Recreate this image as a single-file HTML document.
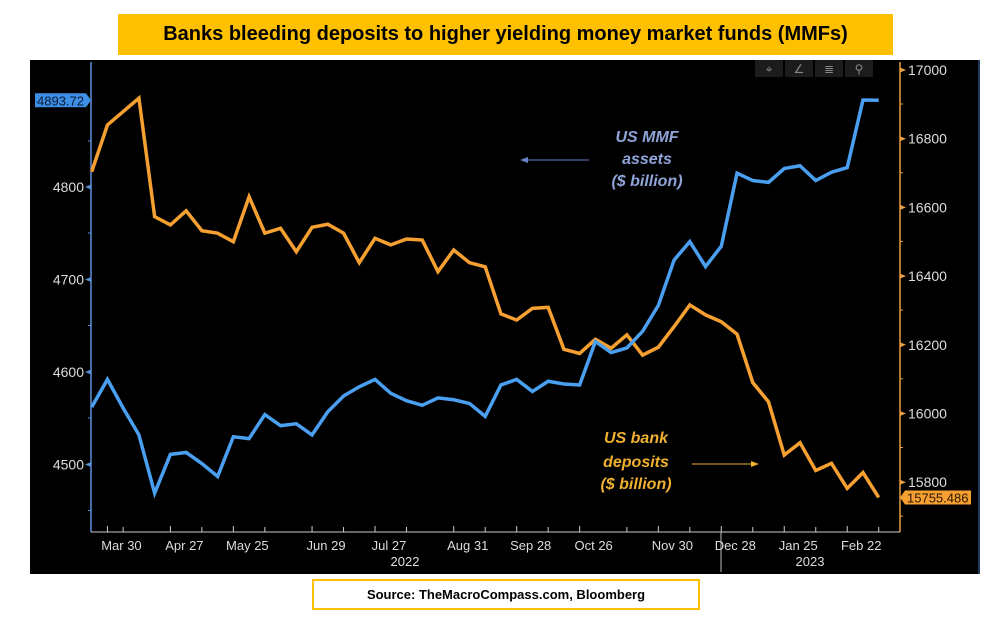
<!DOCTYPE html>
<html><head><meta charset="utf-8">
<style>
body{margin:0;background:#fff;width:1003px;height:628px;overflow:hidden;font-family:"Liberation Sans",sans-serif;}
#title{position:absolute;left:118px;top:14px;width:775px;height:41px;background:#ffc000;color:#000;font-weight:bold;font-size:20px;line-height:41px;text-align:center;}
#src{position:absolute;left:312px;top:579px;width:384px;height:27px;border:2px solid #ffc000;background:#fff;font-weight:bold;font-size:13px;line-height:27px;text-align:center;}
svg{position:absolute;left:0;top:0;}
</style></head><body>
<svg width="1003" height="628">
<rect x="30" y="60" width="950" height="514" fill="#000"/>
<line x1="979" y1="60" x2="979" y2="574" stroke="#2a4a7a" stroke-width="1.5"/>
<g id="g"></g>
</svg>
<div id="title">Banks bleeding deposits to higher yielding money market funds (MMFs)</div>
<div id="src">Source: TheMacroCompass.com, Bloomberg</div>
<script>
const mmfValues=[4562,4592,4561,4532,4469,4511,4513,4501,4487,4530,4528,4554,4542,4544,4532,4557,4574,4584,4592,4577,4569,4564,4572,4570,4566,4552,4586,4592,4579,4590,4587,4586,4633,4621,4626,4644,4672,4721,4741,4714,4736,4815,4807,4805,4820,4823,4807,4816,4821,4894,4893.72];
const depositValues=[16704,16840,16879,16918,16573,16549,16590,16532,16525,16500,16631,16525,16539,16471,16542,16551,16525,16439,16510,16491,16508,16505,16413,16476,16439,16427,16290,16272,16306,16309,16187,16175,16216,16190,16229,16170,16193,16253,16316,16287,16267,16231,16090,16034,15879,15915,15834,15855,15782,15828,15755.486];
const xTickLabels=["Mar 30","Apr 27","May 25","Jun 29","Jul 27","Aug 31","Sep 28","Oct 26","Nov 30","Dec 28","Jan 25","Feb 22"];
const xTickIndex=[1,5,9,14,18,23,27,31,36,40,44,48];
const minorTickIndex=[2,7,11,16,20,25,29,34,38,42,46,50];
const leftTicks=[4500,4600,4700,4800];
const rightTicks=[15800,16000,16200,16400,16600,16800,17000];

const NS="http://www.w3.org/2000/svg";
const g=document.getElementById('g');
const X0=91.7,DX=15.74;
const xs=i=>X0+i*DX;
const yL=v=>187-(v-4800)*0.925;
const yR=v=>70+(17000-v)*0.3435;
function mk(t,a,p){const e=document.createElementNS(NS,t);for(const k in a)e.setAttribute(k,a[k]);(p||g).appendChild(e);return e;}

// axes
let e;
e=mk('line',{x1:91,y1:62,x2:91,y2:532,stroke:'#5b8fd6','stroke-width':1.5});


e=mk('line',{x1:900,y1:62,x2:900,y2:532,stroke:'#e8a040','stroke-width':1.5});


e=mk('line',{x1:91,y1:532,x2:900,y2:532,stroke:'#ccc','stroke-width':1});


mk('line',{x1:721,y1:532,x2:721,y2:572,stroke:'#bbb','stroke-width':1});

leftTicks.forEach(v=>{const y=yL(v);
 mk('polygon',{points:`85,${y} 91,${y-2.5} 91,${y+2.5}`,fill:'#5b8fd6'});
 mk('line',{x1:91,y1:y+46,x2:88,y2:y+46,stroke:'#5b8fd6'});
 e=mk('text',{x:84,y:y+5,fill:'#ddd','font-size':14,'text-anchor':'end'});e.textContent=v;
 
 
});
mk('line',{x1:91,y1:yL(4800)-46,x2:88,y2:yL(4800)-46,stroke:'#5b8fd6'});
rightTicks.forEach(v=>{const y=yR(v);
 mk('polygon',{points:`906,${y} 900,${y-2.5} 900,${y+2.5}`,fill:'#e8a040'});
 if(v>15800)mk('line',{x1:900,y1:y+34,x2:903,y2:y+34,stroke:'#e8a040'});
 e=mk('text',{x:908,y:y+5,fill:'#ddd','font-size':14});e.textContent=v;
 
 
});
mk('line',{x1:900,y1:yR(15800)+34,x2:903,y2:yR(15800)+34,stroke:'#e8a040'});
xTickIndex.forEach((i,k)=>{const x=xs(i);
 mk('line',{x1:x,y1:532,x2:x,y2:526,stroke:'#ccc'});
 e=mk('text',{x:x+14,y:550,fill:'#ddd','font-size':13,'text-anchor':'middle'});e.textContent=xTickLabels[k];
 
 
});
minorTickIndex.forEach(i=>{const x=xs(i);mk('line',{x1:x,y1:532,x2:x,y2:527,stroke:'#ccc'});});
e=mk('text',{x:405,y:566,fill:'#ddd','font-size':13,'text-anchor':'middle'});e.textContent='2022';


e=mk('text',{x:810,y:566,fill:'#ddd','font-size':13,'text-anchor':'middle'});e.textContent='2023';



// series
e=mk('polyline',{points:depositValues.map((v,i)=>xs(i)+','+yR(v)).join(' '),fill:'none',stroke:'#f5a030','stroke-width':3.5,'stroke-linejoin':'miter'});


e=mk('polyline',{points:mmfValues.map((v,i)=>xs(i)+','+yL(v)).join(' '),fill:'none',stroke:'#4a9ff0','stroke-width':3.5,'stroke-linejoin':'miter'});



// last value labels
const lm=mmfValues[mmfValues.length-1],ld=depositValues[depositValues.length-1];
let yy=yL(lm);
mk('polygon',{points:`35,${yy-7} 86,${yy-7} 91,${yy} 86,${yy+7} 35,${yy+7}`,fill:'#3d8fe6'});
e=mk('text',{x:37,y:yy+5,fill:'#0a1a33','font-size':13});e.textContent=lm.toFixed(2);


yy=yR(ld);
mk('polygon',{points:`900,${yy} 905,${yy-7} 971,${yy-7} 971,${yy+7} 905,${yy+7}`,fill:'#f5a030'});
e=mk('text',{x:907,y:yy+5,fill:'#2a1500','font-size':13});e.textContent=ld.toFixed(3);



// toolbar
['⌖','∠','≣','⚲'].forEach((c,k)=>{const x=755+k*30;
 e=mk('rect',{x:x,y:60,width:28,height:17,fill:'#1c1c1c'});
 
 
 const t=mk('text',{x:x+14,y:73,fill:'#888','font-size':12,'text-anchor':'middle'});t.textContent=c;
});

// annotations
[['US MMF',142],['assets',164],['($ billion)',186]].forEach(([s,y])=>{
 e=mk('text',{x:647,y:y,fill:'#8fa4d8','font-size':16,'font-weight':'bold','font-style':'italic','text-anchor':'middle'});e.textContent=s;
 
 
});
mk('line',{x1:589,y1:160,x2:526,y2:160,stroke:'#6a82c8','stroke-width':1});
mk('polygon',{points:'520,160 528,157 528,163',fill:'#6a82c8'});
[['US bank',443],['deposits',467],['($ billion)',489]].forEach(([s,y])=>{
 e=mk('text',{x:636,y:y,fill:'#f0b030','font-size':16,'font-weight':'bold','font-style':'italic','text-anchor':'middle'});e.textContent=s;
 
 
});
mk('line',{x1:692,y1:464,x2:752,y2:464,stroke:'#f0b030','stroke-width':1});
mk('polygon',{points:'759,464 751,461 751,467',fill:'#f0b030'});
</script>
</body></html>
